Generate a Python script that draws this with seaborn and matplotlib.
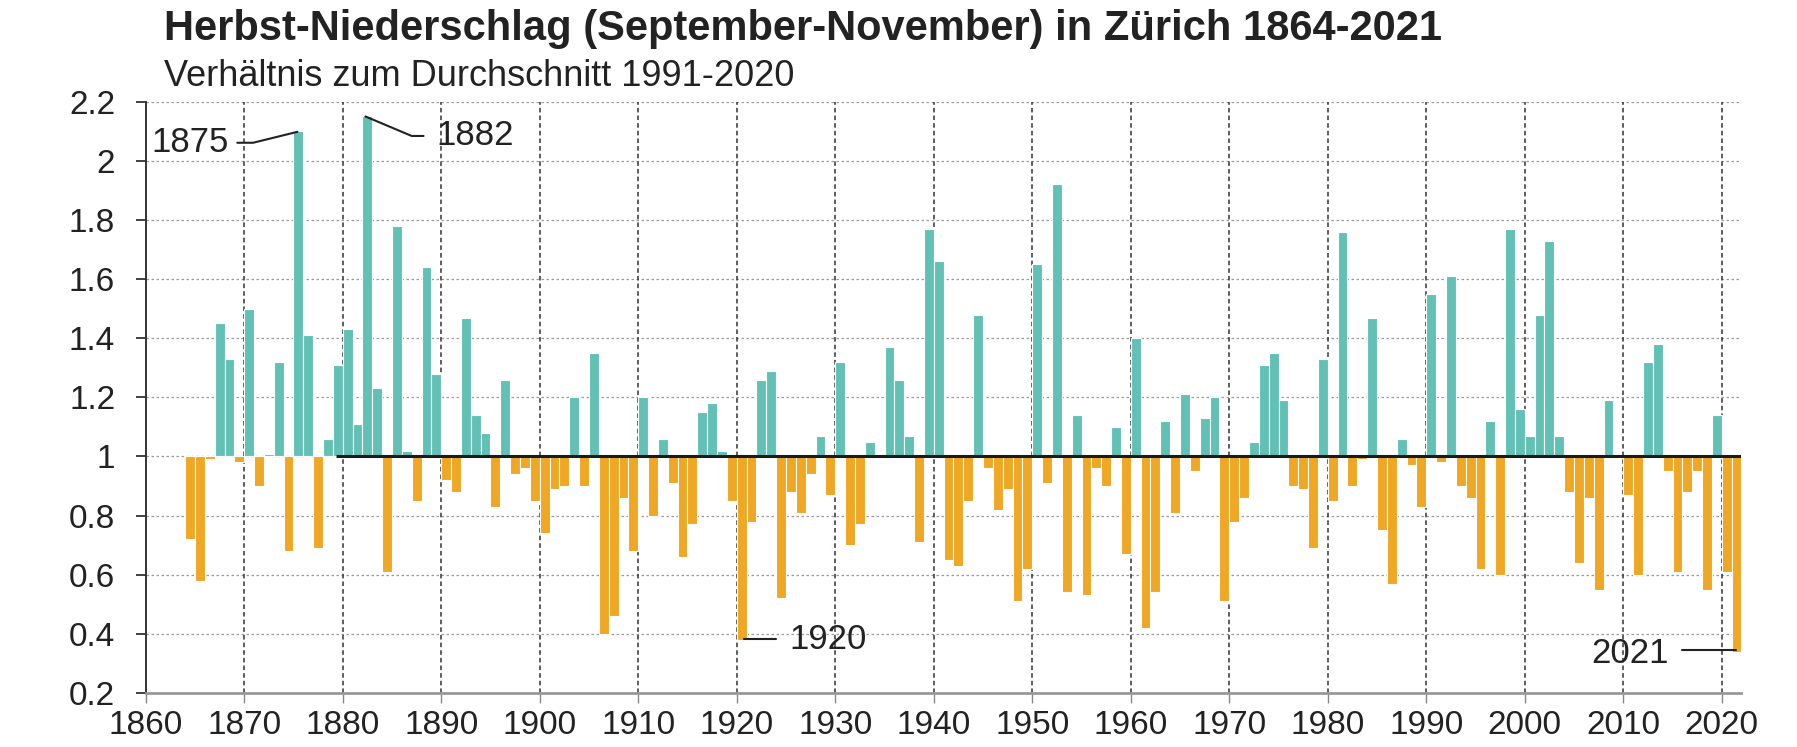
import matplotlib
matplotlib.use("Agg")
import matplotlib.pyplot as plt
import seaborn as sns
import numpy as np
import pandas as pd

# autumn precipitation Zurich, ratio to 1991-2020 mean
years = np.arange(1864, 2022)
ratio = [
    0.72, 0.58, 0.99, 1.45, 1.33, 0.98, 1.50, 0.90, 1.01, 1.32,   # 1864-1873
    0.68, 2.10, 1.41, 0.69, 1.06, 1.31, 1.43, 1.11, 2.15, 1.23,   # 1874-1883
    0.61, 1.78, 1.02, 0.85, 1.64, 1.28, 0.92, 0.88, 1.47, 1.14,   # 1884-1893
    1.08, 0.83, 1.26, 0.94, 0.96, 0.85, 0.74, 0.89, 0.90, 1.20,   # 1894-1903
    0.90, 1.35, 0.40, 0.46, 0.86, 0.68, 1.20, 0.80, 1.06, 0.91,   # 1904-1913
    0.66, 0.77, 1.15, 1.18, 1.02, 0.85, 0.38, 0.78, 1.26, 1.29,   # 1914-1923
    0.52, 0.88, 0.81, 0.94, 1.07, 0.87, 1.32, 0.70, 0.77, 1.05,   # 1924-1933
    1.00, 1.37, 1.26, 1.07, 0.71, 1.77, 1.66, 0.65, 0.63, 0.85,   # 1934-1943
    1.48, 0.96, 0.82, 0.89, 0.51, 0.62, 1.65, 0.91, 1.92, 0.54,   # 1944-1953
    1.14, 0.53, 0.96, 0.90, 1.10, 0.67, 1.40, 0.42, 0.54, 1.12,   # 1954-1963
    0.81, 1.21, 0.95, 1.13, 1.20, 0.51, 0.78, 0.86, 1.05, 1.31,   # 1964-1973
    1.35, 1.19, 0.90, 0.89, 0.69, 1.33, 0.85, 1.76, 0.90, 0.99,   # 1974-1983
    1.47, 0.75, 0.57, 1.06, 0.97, 0.83, 1.55, 0.98, 1.61, 0.90,   # 1984-1993
    0.86, 0.62, 1.12, 0.60, 1.77, 1.16, 1.07, 1.48, 1.73, 1.07,   # 1994-2003
    0.88, 0.64, 0.86, 0.55, 1.19, 1.00, 0.87, 0.60, 1.32, 1.38,   # 2004-2013
    0.95, 0.61, 0.88, 0.95, 0.55, 1.14, 0.61, 0.34,               # 2014-2021
]
yticks = [0.2, 0.4, 0.6, 0.8, 1.0, 1.2, 1.4, 1.6, 1.8, 2.0, 2.2]
xticks = list(range(1860, 2021, 10))

df = pd.DataFrame({"year": years, "ratio": ratio})
df["dev"] = df["ratio"] - 1
df["pos"] = df["year"] + 0.5
df["sign"] = np.where(df["dev"] >= 0, "nass", "trocken")

sns.set_style("white")
plt.rcParams["font.family"] = ["Liberation Sans", "DejaVu Sans"]

fig = plt.figure(figsize=(17.97, 7.47), dpi=100)
ax = fig.add_axes([0.0811, 0.0723, 0.9691 - 0.0811, 0.8639 - 0.0723])

sns.barplot(data=df, x="pos", y="dev", hue="sign", native_scale=True,
            palette={"nass": "#62c1b5", "trocken": "#efa724"}, saturation=1,
            dodge=False, width=1.0, errorbar=None, legend=False,
            bottom=1.0, linewidth=0.8, ax=ax)

ax.set_xlim(1860, 2022)
ax.set_ylim(0.2, 2.2)
ax.set_xticks(xticks)
ax.set_yticks(yticks)
ax.set_yticklabels([f"{v:g}" for v in yticks])
ax.set_xlabel("")
ax.set_ylabel("")
ax.tick_params(axis="y", labelsize=24, length=7, width=1.3, color="#333333", pad=15,
               direction="out", left=True, labelcolor="#222222")
ax.tick_params(axis="x", labelsize=24, length=7, width=1.0, color="#888888", pad=5,
               bottom=True, labelcolor="#222222")

# grid
for v in yticks[1:]:
    ax.axhline(v, color="#9a9a9a", lw=0.9, ls=(0, (2, 2)), zorder=0)
for v in xticks[1:]:
    ax.axvline(v, color="#333333", lw=1.1, ls=(0, (3, 2)), zorder=0.5)

ax.hlines(1.0, 1879.3, 2022, color="#1a1a1a", lw=2.2, zorder=3)

sns.despine(ax=ax, top=True, right=True)
ax.spines["left"].set_color("#333333")
ax.spines["left"].set_linewidth(1.4)
ax.spines["bottom"].set_color("#999999")
ax.spines["bottom"].set_linewidth(2.0)

# annotations
lc = "#222222"
fs = 25
ax.plot([1869.3, 1870.9, 1875.4], [2.061, 2.061, 2.098], color=lc, lw=1.5, zorder=4)
ax.text(1868.4, 2.061, "1875", fontsize=fs, ha="right", va="center", color="#222222")
ax.plot([1882.3, 1887.0, 1888.2], [2.15, 2.084, 2.084], color=lc, lw=1.5, zorder=4)
ax.text(1889.5, 2.084, "1882", fontsize=fs, ha="left", va="center", color="#222222")
ax.plot([1920.7, 1924.0], [0.384, 0.384], color=lc, lw=1.5, zorder=4)
ax.text(1925.3, 0.38, "1920", fontsize=fs, ha="left", va="center", color="#222222")
ax.plot([2016.0, 2021.4], [0.344, 0.344], color=lc, lw=1.5, zorder=4)
ax.text(2014.6, 0.335, "2021", fontsize=fs, ha="right", va="center", color="#222222")

fig.text(164 / 1797, 1 - 29 / 747, "Herbst-Niederschlag (September-November) in Zürich 1864-2021",
         fontsize=30, fontweight="bold", ha="left", va="center", color="#222222")
fig.text(164 / 1797, 1 - 76 / 747, "Verhältnis zum Durchschnitt 1991-2020",
         fontsize=26, ha="left", va="center", color="#222222")

fig.savefig("out.png", dpi=100)
